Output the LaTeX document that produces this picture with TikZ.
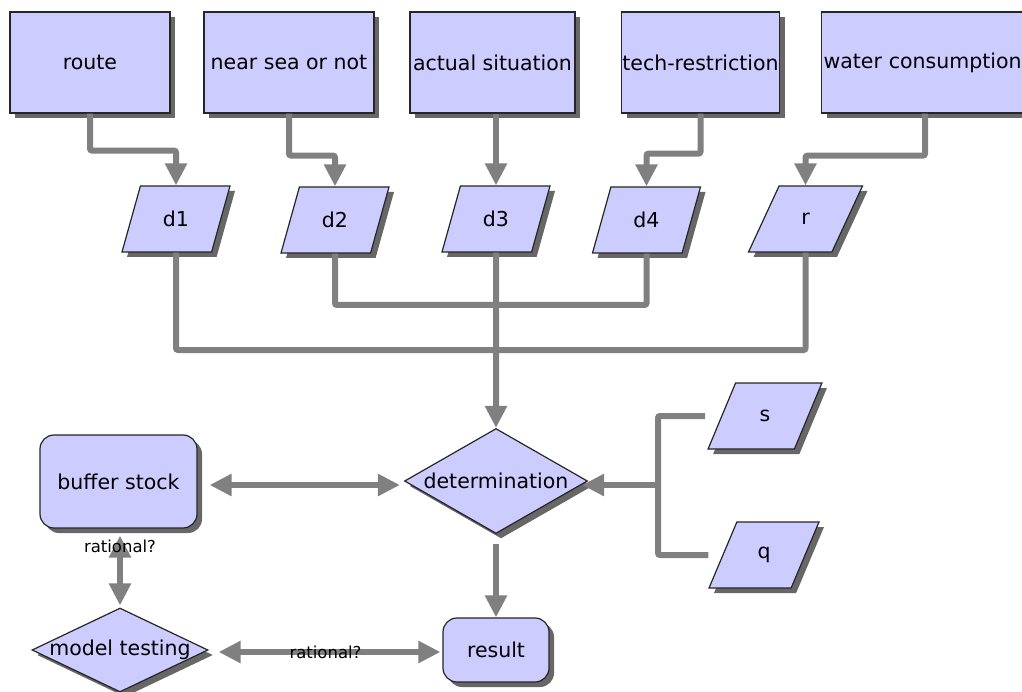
\documentclass[tikz,border=0pt]{standalone}
\usepackage{fontspec}
\setmainfont{DejaVu Sans}
\usetikzlibrary{shapes.geometric,shadows,arrows.meta}
\definecolor{lavender}{HTML}{CCCCFF}
\definecolor{linkgray}{HTML}{808080}
\tikzset{
  base/.style={draw=black!85, line width=1.2pt, fill=lavender, inner sep=0pt,
    drop shadow={shadow xshift=5pt, shadow yshift=-5pt, fill=black!70, opacity=0.85}},
  source/.style={base, rectangle, minimum height=101pt},
  datum/.style={base, trapezium, trapezium left angle=67, trapezium right angle=113,
    trapezium stretches=true, minimum width=108pt, minimum height=66pt},
  decision/.style={base, diamond},
  stock/.style={base, rectangle, rounded corners=14pt},
  link/.style={draw=linkgray, line width=6pt, rounded corners=2pt},
  flow/.style={link, -{Triangle[length=22pt,width=21pt]}},
  biflow/.style={link, {Triangle[length=22pt,width=21pt]}-{Triangle[length=22pt,width=21pt]}},
  lbl/.style={font=\fontsize{16.5}{19}\selectfont, inner sep=1pt}
}
\begin{document}
\begin{tikzpicture}[x=1pt, y=-1pt, font=\fontsize{20.5}{24}\selectfont]
\useasboundingbox (0,0) rectangle (1022,692);
\clip (0,0) rectangle (1022,692);
% sources
\node[source, minimum width=160pt] (route) at (90,62.5) {route};
\node[source, minimum width=170pt] (near) at (289,62.5) {near sea or not};
\node[source, minimum width=165pt] (actual) at (492.5,62.5) {actual situation};
\node[source, minimum width=158pt] (tech) at (700.5,62.5) {tech-restriction};
\node[source, anchor=west, text width=200pt, align=left, inner xsep=2pt] (water) at (821,62.5) {water consumption};
% data
\node[datum] (d1) at (176,219) {d1};
\node[datum] (d2) at (335,220) {d2};
\node[datum] (d3) at (496,219) {d3};
\node[datum] (d4) at (646.5,220) {d4};
\node[datum, minimum width=114pt] (r) at (805.5,219) {r};
\node[datum, minimum width=114pt] (s) at (765,416) {s};
\node[datum, minimum width=110pt] (q) at (764,555) {q};
% decisions and results
\node[decision, minimum width=183pt, minimum height=105pt, label=center:determination] (det) at (496,481) {};
\node[stock, minimum width=157pt, minimum height=93pt] (buffer) at (118.5,481.5) {buffer stock};
\node[decision, minimum width=176pt, minimum height=84pt, label=center:{model testing}] (model) at (120,650) {};
\node[stock, minimum width=106pt, minimum height=64pt] (result) at (496,650) {result};
% sources to data
\draw[flow] (route.south) -- ++(0,37) -| (d1.north);
\draw[flow] (near.south) -- ++(0,42) -| (d2.north);
\draw[flow] (d3.north |- actual.south) -- (d3.north);
\draw[flow] (tech.south) -- ++(0,40) -| (d4.north);
\draw[flow] (water.south -| 925,0) -- ++(0,42) -| (r.north);
% data to determination
\coordinate (hub1) at (496,305);
\coordinate (hub2) at (496,350);
\draw[link] (d2.south) |- (hub1) -| (d4.south);
\draw[link] (d1.south) |- (hub2) -| (r.south);
\draw[flow] (d3.south) -- (det.north);
\coordinate (fork) at (658,485);
\draw[link] ([xshift=-16pt]s.west) -| (fork);
\draw[link] ([xshift=-14pt]q.west) -| (fork);
\draw[flow, shorten >=-6pt] (fork) -- (fork -| det.east);
% outcome
\draw[biflow, shorten <=12pt, shorten >=4pt] (buffer.east |- 0,485) -- (det.west |- 0,485);
\draw[flow, shorten <=10pt] (det.south) -- (result.north);
\draw[biflow, shorten <=7pt, shorten >=2pt] (buffer.south -| model.north) -- node[lbl, pos=0.22] {rational?} (model.north);
\draw[biflow, shorten <=10pt, shorten >=2pt] (model.east |- 0,652) -- node[lbl] {rational?} (result.west |- 0,652);
\end{tikzpicture}
\end{document}
